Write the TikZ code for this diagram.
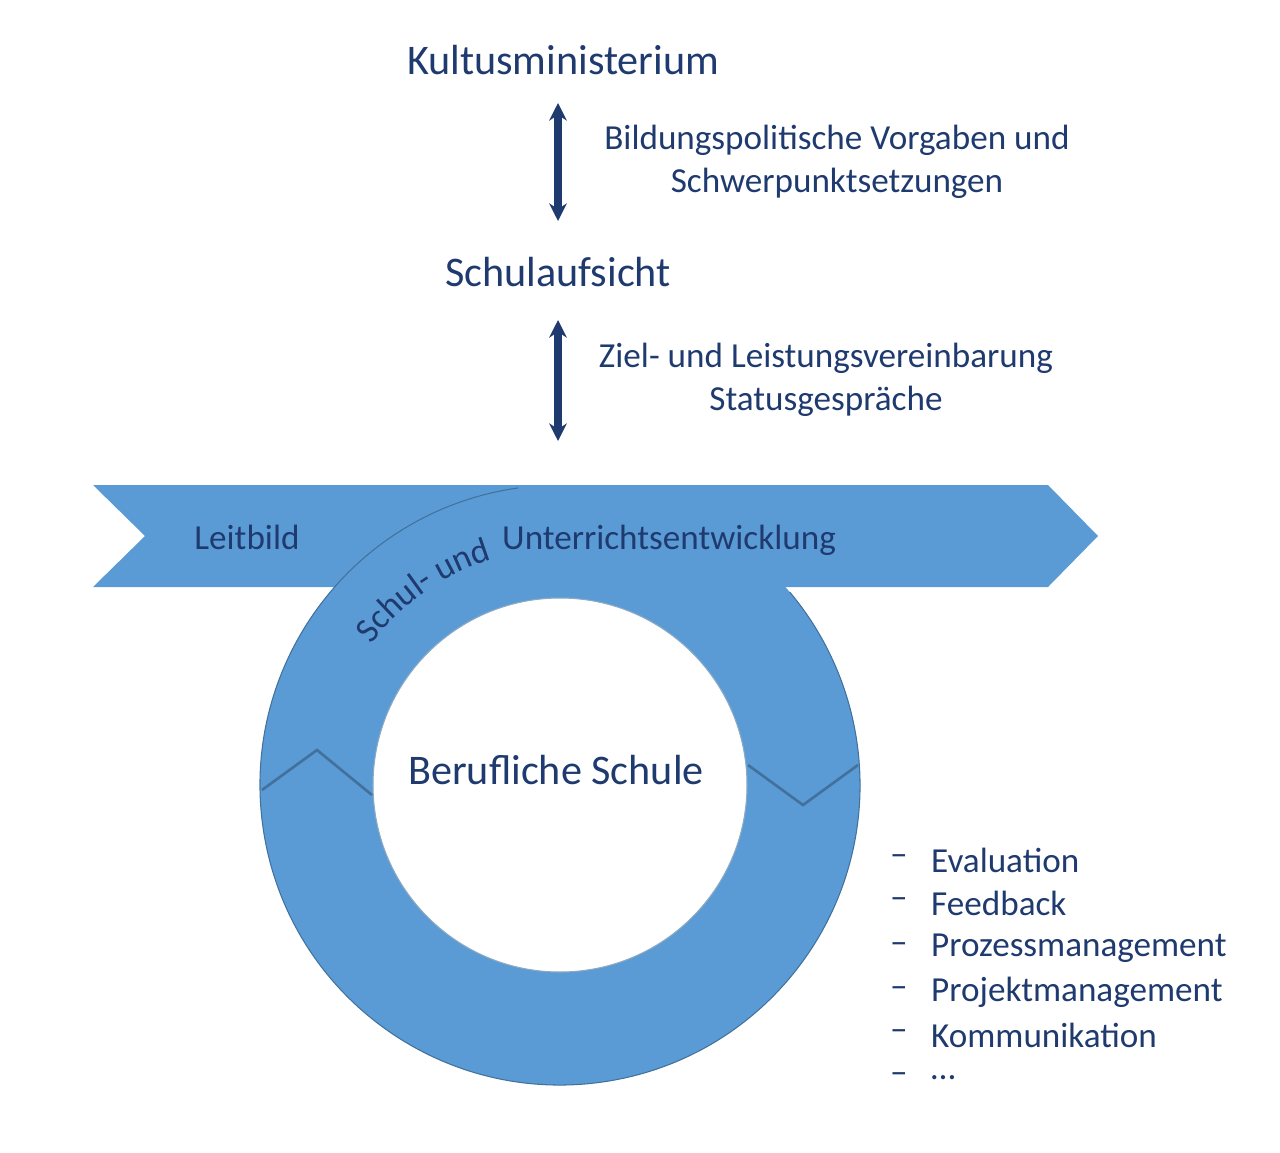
\documentclass[tikz,border=0pt]{standalone}
\usepackage{fontspec}
\setmainfont{Carlito}
\usetikzlibrary{decorations.text,arrows.meta}
\definecolor{bandblue}{HTML}{5B9BD5}
\definecolor{edge}{HTML}{41719C}
\definecolor{navy}{HTML}{1F3A6E}
\begin{document}
\begin{tikzpicture}[x=0.02cm,y=-0.02cm,
  lbl/.style={text=navy,font=\fontsize{20}{24.5}\selectfont,align=center},
  big/.style={text=navy,font=\fontsize{24}{28}\selectfont},
  dbl/.style={{Stealth[length=10pt,width=10pt]}-{Stealth[length=10pt,width=10pt]},line width=4pt,navy},
  item/.style={text=navy,font=\fontsize{20}{24}\selectfont,anchor=west}]
\useasboundingbox (0,0) rectangle (1280,1152);
% band arrow
\fill[bandblue] (93,485) -- (1048,485) -- (1098,536) -- (1048,587) -- (93,587) -- (145,536) -- cycle;
% ring
\fill[bandblue,even odd rule] (560,785) circle[radius=300] (560,785) circle[radius=187];
\draw[edge,line width=0.6pt] (560,785) ++(-98:300) arc[start angle=-98,end angle=-400,radius=300];
\draw[edge!60,line width=0.6pt] (560,785) circle[radius=187];
% chevrons
\draw[edge,line width=1.5pt] (262,790) -- (317,750) -- (372,795);
\draw[edge,line width=1.5pt] (748,765) -- (803,805) -- (858,765);
% curved text
\begin{scope}[x=1cm,y=1cm]
\path[decorate,decoration={text along path,text align=center,
  text={|\fontsize{20}{24}\selectfont\color{navy}|Schul- und}}]
  (11.2,-15.7) ++(150:4.7) arc[start angle=150,end angle=100,radius=4.7];
\end{scope}
% texts
\node[big] (km) at (563,60) {Kultusministerium};
\node[big] (sa) at (558,272) {Schulaufsicht};
\node[lbl] (l1) at (837,162) {Bildungspolitische Vorgaben und\\Schwerpunktsetzungen};
\node[lbl] (l2) at (826,380) {Ziel- und Leistungsvereinbarung\\Statusgespräche};
\node[lbl] (lb) at (247,537) {Leitbild};
\node[lbl] (ue) at (669,540) {Unterrichtsentwicklung};
\node[big] (bs) at (556,770) {Berufliche Schule};
\coordinate (a1) at (558,103); \coordinate (a2) at (558,221);
\coordinate (b1) at (558,320); \coordinate (b2) at (558,441);
\draw[dbl] (a1) -- (a2);
\draw[dbl] (b1) -- (b2);
\foreach \t/\y [count=\i] in {Evaluation/860,Feedback/903,Prozessmanagement/948,Projektmanagement/992,Kommunikation/1035,{…}/1078}{
  \node[item] (d\i) at (884,\y) {–};
  \node[item] (i\i) at (925,\y) {\t};
}
\end{tikzpicture}
\end{document}
